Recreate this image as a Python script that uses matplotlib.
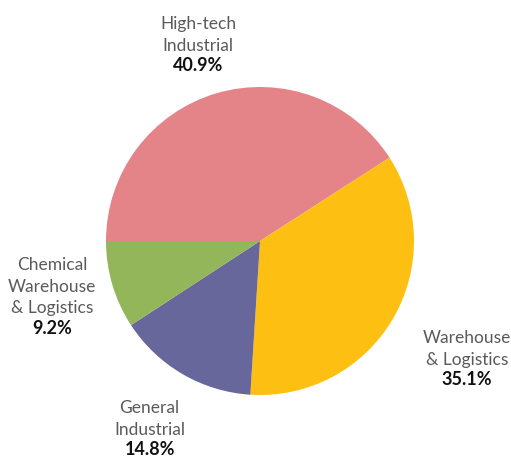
import numpy as np
import matplotlib.pyplot as plt

# donnees
segments = ['High-tech\nIndustrial', 'Warehouse\n& Logistics', 'General\nIndustrial',
            'Chemical\nWarehouse\n& Logistics']
parts = [40.9, 35.1, 14.8, 9.2]
couleurs = ['#E48388', '#FDBF11', '#67679B', '#93B65A']

# placement des etiquettes (rayon, decalage d'angle en degres)
label_dist = [1.206, 1.617, 1.534, 1.464]
label_shift = [3.1, -3.4, 2.4, 6.2]

fig = plt.figure(figsize=(5.11, 4.57), dpi=100)
ax = fig.add_axes([0, 0, 1, 1])

wedges, _ = ax.pie(parts, colors=couleurs, startangle=180, counterclock=False,
                   radius=1, center=(0, 0),
                   wedgeprops=dict(linewidth=0))

ax.set_xlim(-260 / 154, (511 - 260) / 154)
ax.set_ylim(-216 / 154, 241 / 154)
ax.set_aspect('auto')
ax.axis('off')

for w, nom, p, d, s in zip(wedges, segments, parts, label_dist, label_shift):
    a = np.deg2rad((w.theta1 + w.theta2) / 2 + s)
    x, y = d * np.cos(a), d * np.sin(a)
    ax.annotate('%.1f%%' % p, (x, y), ha='center', va='center',
                fontsize=13, fontweight='bold', color='#111111', family='Lato')
    ax.annotate(nom, (x, y), xytext=(0, 8.5), textcoords='offset points',
                ha='center', va='bottom', fontsize=12.5, color='#5a5a5a',
                family='Lato', linespacing=1.45)

fig.savefig('out.png', dpi=100)
